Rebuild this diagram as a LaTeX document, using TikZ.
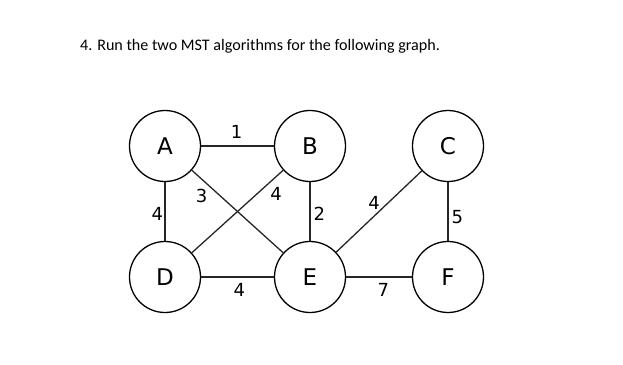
\documentclass[tikz,border=0pt]{standalone}
\usepackage{fontspec}
\setmainfont{Carlito}
\newfontfamily\vertexfont{DejaVu Sans}
\usetikzlibrary{positioning}
\tikzset{
  vertex/.style={
    circle, draw=black, line width=1.3pt,
    minimum size=71pt, inner sep=0pt,
    font=\vertexfont\fontsize{23}{23}\selectfont
  },
  edge/.style={
    draw=black!85, line width=1.3pt
  },
  weight/.style={
    inner sep=0pt, font=\vertexfont\fontsize{18}{18}\selectfont
  },
  title/.style={
    anchor=base west, inner sep=0pt, font=\fontsize{16.1}{19}\selectfont
  }
}
\begin{document}
\begin{tikzpicture}[x=1pt, y=-1pt]
  \useasboundingbox (0,0) rectangle (623,364);

  \node[title] (heading) at (80,50) {4. Run the two MST algorithms for the following graph.};

  % vertices
  \node[vertex] (A) at (165,146) {A};
  \node[vertex] (B) at (310,146) {B};
  \node[vertex] (C) at (448,146) {C};
  \node[vertex] (D) at (165,277) {D};
  \node[vertex] (E) at (310,277) {E};
  \node[vertex] (F) at (448,277) {F};

  % edges
  \draw[edge] (A) -- (B);
  \draw[edge] (A) -- (D);
  \draw[edge] (A) -- (E);
  \draw[edge] (B) -- (D);
  \draw[edge] (B) -- (E);
  \draw[edge] (C) -- (E);
  \draw[edge] (C) -- (F);
  \draw[edge] (D) -- (E);
  \draw[edge] (E) -- (F);

  % weights
  \node[weight] (wAB) at (236.7,131.7) {1};
  \node[weight] (wAE) at (201.7,196) {3};
  \node[weight] (wBD) at (276,194) {4};
  \node[weight] (wAD) at (157.3,214) {4};
  \node[weight] (wBE) at (319.3,214.3) {2};
  \node[weight] (wCE) at (374,202.7) {4};
  \node[weight] (wCF) at (457.3,216.7) {5};
  \node[weight] (wDE) at (239.3,290) {4};
  \node[weight] (wEF) at (383.3,290) {7};
\end{tikzpicture}
\end{document}
